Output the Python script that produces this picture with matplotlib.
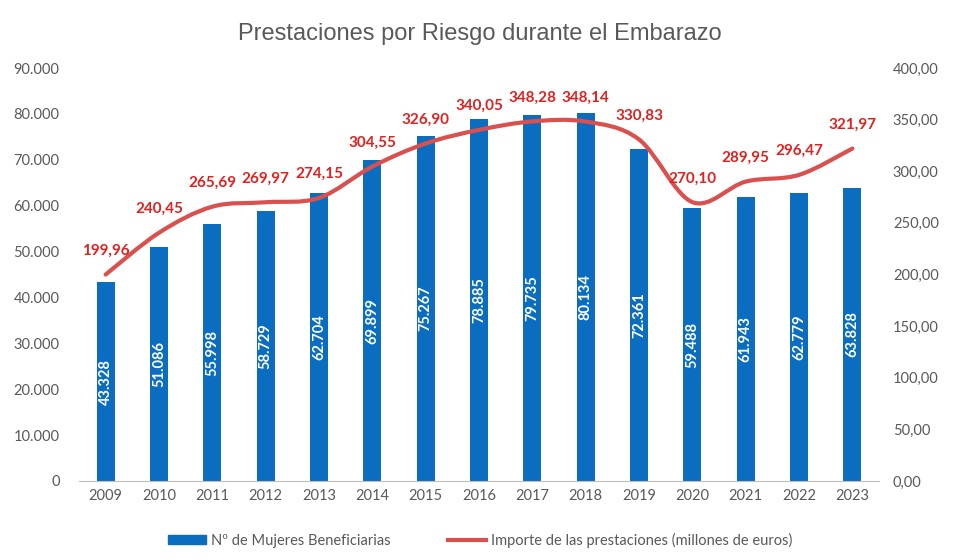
import numpy as np
import matplotlib.pyplot as plt
from matplotlib.path import Path
from matplotlib.patches import PathPatch, Patch
from matplotlib.lines import Line2D

years = ['2009', '2010', '2011', '2012', '2013', '2014', '2015', '2016',
         '2017', '2018', '2019', '2020', '2021', '2022', '2023']
mujeres = [43328, 51086, 55998, 58729, 62704, 69899, 75267, 78885,
           79735, 80134, 72361, 59488, 61943, 62779, 63828]
importe = [199.96, 240.45, 265.69, 269.97, 274.15, 304.55, 326.90, 340.05,
           348.28, 348.14, 330.83, 270.10, 289.95, 296.47, 321.97]

azul = '#0B6DBF'
rojo = '#D9504F'
rojo_txt = '#E0211F'
gris = '#595959'

plt.rcParams['font.family'] = ['Lato', 'DejaVu Sans']

fig = plt.figure(figsize=(9.8, 5.6), dpi=100)
ax = fig.add_axes([79/980, 1 - 481/560, 800/980, 413/560])
ax2 = ax.twinx()

x = np.arange(len(years))
bars = ax.bar(x, mujeres, width=0.34, color=azul, zorder=2)

def miles(v):
    return f'{v:,.0f}'.replace(',', '.')

def coma(v):
    return f'{v:,.2f}'.replace(',', 'X').replace('.', ',').replace('X', '.')

for xi, v in zip(x, mujeres):
    ax.text(xi, v / 2, miles(v), rotation=90, ha='center', va='center',
            color='white', fontsize=10.5, fontweight='bold')

ax.set_xlim(-0.5, len(years) - 0.5)
ax.set_ylim(0, 90000)
ax.set_yticks(np.arange(0, 90001, 10000))
ax.set_yticklabels([miles(t) for t in np.arange(0, 90001, 10000)])
ax.set_xticks(x)
ax.set_xticklabels(years)

ax2.set_ylim(0, 400)
ax2.set_yticks(np.arange(0, 401, 50))
ax2.set_yticklabels([coma(t) for t in np.arange(0, 401, 50)])

# smoothed line like Excel (bezier through the data points)
pts = np.column_stack([x, importe]).astype(float)
verts = [pts[0]]
codes = [Path.MOVETO]
n = len(pts)
for i in range(n - 1):
    p0 = pts[i - 1] if i > 0 else pts[i]
    p1 = pts[i]
    p2 = pts[i + 1]
    p3 = pts[i + 2] if i + 2 < n else pts[i + 1]
    c1 = p1 + (p2 - p0) / 6
    c2 = p2 - (p3 - p1) / 6
    verts += [c1, c2, p2]
    codes += [Path.CURVE4] * 3
ax2.add_patch(PathPatch(Path(verts, codes), fill=False, edgecolor=rojo,
                        lw=3, capstyle='round', zorder=3))

for xi, v in zip(x, importe):
    ax2.annotate(coma(v), (xi, v), xytext=(0, 12), textcoords='offset points',
                 ha='center', va='bottom', color=rojo_txt, fontsize=11,
                 fontweight='bold')

for a in (ax, ax2):
    for s in a.spines.values():
        s.set_visible(False)
    a.tick_params(length=0, colors=gris, labelsize=10.5)
ax.spines['bottom'].set_visible(True)
ax.spines['bottom'].set_color('#BFBFBF')
ax.tick_params(axis='y', pad=14)
ax2.tick_params(axis='y', pad=10)
ax.tick_params(axis='x', pad=6)

fig.text(0.49, 0.94, 'Prestaciones por Riesgo durante el Embarazo',
         ha='center', va='center', fontsize=17, color=gris,
         family=['Liberation Sans', 'DejaVu Sans'])

handles = [Patch(color=azul), Line2D([0], [0], color=rojo, lw=3)]
fig.legend(handles, ['Nº de Mujeres Beneficiarias',
                     'Importe de las prestaciones (millones de euros)'],
           loc='center', bbox_to_anchor=(0.49, 0.035), ncol=2, frameon=False,
           fontsize=10.5, labelcolor=gris, handlelength=2.6, handleheight=0.6,
           columnspacing=4, handletextpad=0.3)

fig.savefig('out.png', dpi=100)
